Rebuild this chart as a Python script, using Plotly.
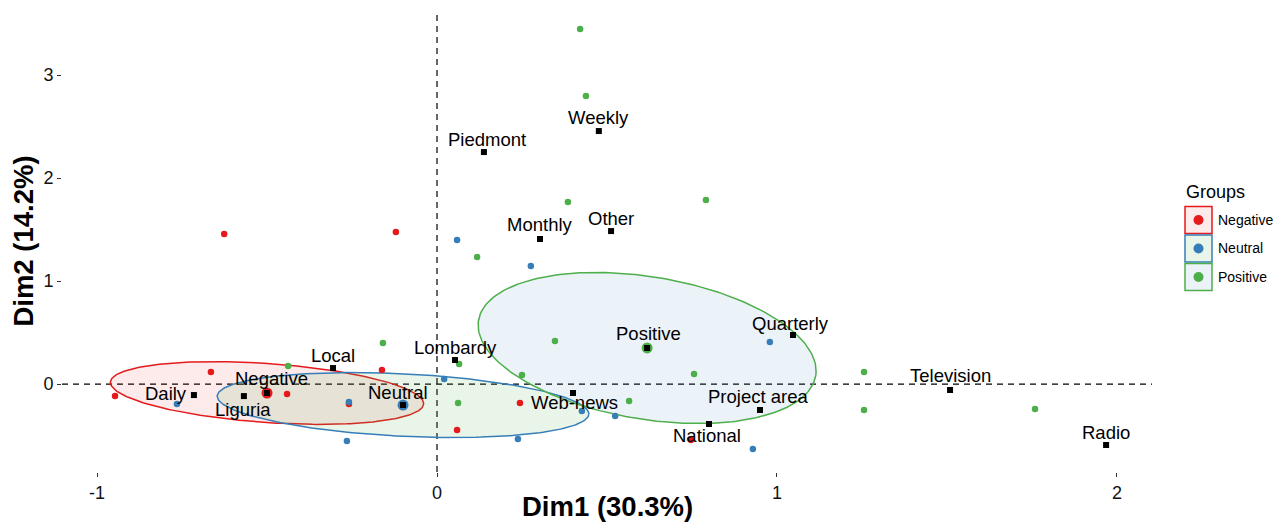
import numpy as np
import plotly.graph_objects as go

# ---------------- data ----------------
groups = ["Negative", "Neutral", "Positive"]
group_colors = ["#E41A1C", "#377EB8", "#4DAF4A"]
ellipse_fill = ["rgba(228,26,28,0.09)", "rgba(77,175,74,0.13)", "rgba(55,126,184,0.10)"]

neg_x = [-0.626, -0.121, -0.947, -0.665, -0.441, -0.162, -0.259, 0.244, 0.059, 0.747]
neg_y = [1.456, 1.476, -0.117, 0.117, -0.097, 0.136, -0.194, -0.184, -0.447, -0.544]

neu_x = [0.059, 0.276, -0.765, -0.259, -0.265, 0.021, 0.238, 0.426, 0.524, 0.979, 0.929]
neu_y = [1.398, 1.146, -0.194, -0.175, -0.553, 0.049, -0.534, -0.262, -0.311, 0.408, -0.631]

pos_x = [0.421, 0.438, 0.385, 0.791, 0.118, -0.159, -0.438, 0.065, 0.347, 0.250,
         0.756, 1.256, 0.565, 0.062, 1.256, 1.759]
pos_y = [3.447, 2.796, 1.767, 1.786, 1.233, 0.398, 0.175, 0.194, 0.417, 0.087,
         0.097, 0.117, -0.165, -0.184, -0.252, -0.243]

var_names = ["Piedmont", "Weekly", "Monthly", "Other", "Local", "Lombardy", "Daily",
             "Liguria", "Web-news", "Quarterly", "Project area", "National",
             "Television", "Radio"]
var_x = [0.138, 0.476, 0.303, 0.512, -0.306, 0.053, -0.715, -0.568, 0.400, 1.047,
         0.950, 0.800, 1.509, 1.968]
var_y = [2.252, 2.456, 1.408, 1.485, 0.155, 0.233, -0.107, -0.117, -0.087, 0.476,
         -0.252, -0.388, -0.058, -0.592]

cent_x = [-0.500, -0.100, 0.618]
cent_y = [-0.087, -0.204, 0.350]

# confidence ellipses: axis vectors (data units)
ell_ax = [0.4606, 0.5465, 0.4959]
ell_ay = [-0.1063, -0.0883, -0.2689]
ell_bx = [-0.0061, -0.0045, -0.0339]
ell_by = [-0.2857, -0.3025, -0.6821]

x_title = "Dim1 (30.3%)"
y_title = "Dim2 (14.2%)"
x_ticks = [-1, 0, 1, 2]
y_ticks = [0, 1, 2, 3]

# ---------------- styling / layout ----------------
OFF = 8  # page body margin of the browser
W, H = 1282, 532
PL, PR, PT, PB = 62, 1152, 10, 472          # panel edges in window pixels
ML, MT = PL - OFF, PT - OFF
MR, MB = W - (PR - OFF), H - (PB - OFF)
XR = [-1.103, 2.103]
YR = [-0.854, 3.631]
FONT = "Liberation Sans, Arial, sans-serif"

# label offsets (px, right / up) relative to the point
label_shift = {
    "Daily": (-28, 2), "Liguria": (-1, -13), "Web-news": (1, -10),
    "National": (-2, -11), "Project area": (-2, 13), "Neutral": (-5, 13),
    "Negative": (4, 14), "Other": (0, 13), "Quarterly": (-2, 12),
    "Television": (0, 15), "Piedmont": (3, 13), "Weekly": (0, 14),
    "Monthly": (0, 14), "Positive": (1, 14),
}

fig = go.Figure()

t = np.linspace(0, 2 * np.pi, 240)
for i, g in enumerate(groups):
    ex = cent_x[i] + ell_ax[i] * np.cos(t) + ell_bx[i] * np.sin(t)
    ey = cent_y[i] + ell_ay[i] * np.cos(t) + ell_by[i] * np.sin(t)
    fig.add_trace(go.Scatter(x=ex, y=ey, mode="lines", fill="toself",
                             fillcolor=ellipse_fill[i],
                             line=dict(color=group_colors[i], width=1.5),
                             hoverinfo="skip", showlegend=False))

for xs, ys, c in [(neg_x, neg_y, group_colors[0]), (neu_x, neu_y, group_colors[1]),
                  (pos_x, pos_y, group_colors[2])]:
    fig.add_trace(go.Scatter(x=xs, y=ys, mode="markers",
                             marker=dict(color=c, size=6.5, line=dict(width=0)),
                             showlegend=False, hoverinfo="skip"))

# group centroids
fig.add_trace(go.Scatter(x=cent_x, y=cent_y, mode="markers",
                         marker=dict(color=group_colors, size=11, line=dict(width=0)),
                         showlegend=False, hoverinfo="skip"))
fig.add_trace(go.Scatter(x=cent_x, y=cent_y, mode="markers",
                         marker=dict(color="black", size=6, symbol="square",
                                     line=dict(width=0)),
                         showlegend=False, hoverinfo="skip"))
# variable categories
fig.add_trace(go.Scatter(x=var_x, y=var_y, mode="markers",
                         marker=dict(color="black", size=6, symbol="square",
                                     line=dict(width=0)),
                         showlegend=False, hoverinfo="skip"))

annotations = []
for n, x, y in list(zip(var_names, var_x, var_y)) + list(zip(groups, cent_x, cent_y)):
    dx, dy = label_shift.get(n, (0, 13))
    annotations.append(dict(x=x, y=y, xref="x", yref="y", text=n, showarrow=False,
                            xshift=dx, yshift=dy,
                            font=dict(family=FONT, size=18.5, color="black")))

# reference dashed lines
shapes = [
    dict(type="line", xref="paper", yref="y", x0=0, x1=1, y0=0, y1=0,
         line=dict(color="black", width=1.2, dash="6px,5px"), layer="between"),
    dict(type="line", xref="x", yref="paper", x0=0, x1=0, y0=0, y1=1,
         line=dict(color="black", width=1.2, dash="6px,5px"), layer="between"),
]

# helpers: window pixels -> paper coords
pw, ph = PR - PL, PB - PT
def px(xp):
    return (xp - PL) / pw
def py(yp):
    return (PB - yp) / ph

# x-axis title as annotation for exact placement
annotations.append(dict(x=px(607), y=py(507), xref="paper", yref="paper",
                        text="<b>" + x_title + "</b>", showarrow=False,
                        xanchor="center", yanchor="middle",
                        font=dict(family=FONT, size=27.5, color="black")))

# manual legend (boxes with swapped fills like the original)
annotations.append(dict(x=px(1184), y=py(192), xref="paper", yref="paper",
                        text="Groups", showarrow=False, xanchor="left",
                        yanchor="middle",
                        font=dict(family=FONT, size=18, color="black")))
for i, g in enumerate(groups):
    top = 206 + i * 28.5
    shapes.append(dict(type="rect", xref="paper", yref="paper",
                       x0=px(1185), x1=px(1212), y0=py(top + 0.5), y1=py(top + 27.5),
                       fillcolor=ellipse_fill[i],
                       line=dict(color=group_colors[i], width=1.5), layer="above"))
    cx, cy = 1198.5, top + 14
    shapes.append(dict(type="circle", xref="paper", yref="paper",
                       x0=px(cx - 5), x1=px(cx + 5), y0=py(cy + 5), y1=py(cy - 5),
                       fillcolor=group_colors[i], line=dict(width=0), layer="above"))
    annotations.append(dict(x=px(1216), y=py(cy), xref="paper", yref="paper",
                            text=g, showarrow=False, xanchor="left", yanchor="middle",
                            font=dict(family=FONT, size=14, color="black")))

fig.update_layout(
    width=W, height=H,
    margin=dict(l=ML, r=MR, t=MT, b=MB),
    paper_bgcolor="white", plot_bgcolor="white",
    showlegend=False,
    shapes=shapes, annotations=annotations,
    xaxis=dict(range=XR, tickvals=x_ticks, ticktext=[str(v) for v in x_ticks],
               showgrid=False, zeroline=False, showline=False,
               ticks="outside", ticklen=4, tickcolor="#333", tickwidth=1,
               tickfont=dict(family=FONT, size=18, color="#111"),
               automargin=False),
    yaxis=dict(range=YR, tickvals=y_ticks, ticktext=[str(v) for v in y_ticks],
               showgrid=False, zeroline=False, showline=False,
               ticks="outside", ticklen=4, tickcolor="#333", tickwidth=1,
               tickfont=dict(family=FONT, size=18, color="#111"),
               title=dict(text="<b>" + y_title + "</b>", standoff=4,
                          font=dict(family=FONT, size=27.5, color="black")),
               automargin=False),
)

fig.write_html("out.html")
